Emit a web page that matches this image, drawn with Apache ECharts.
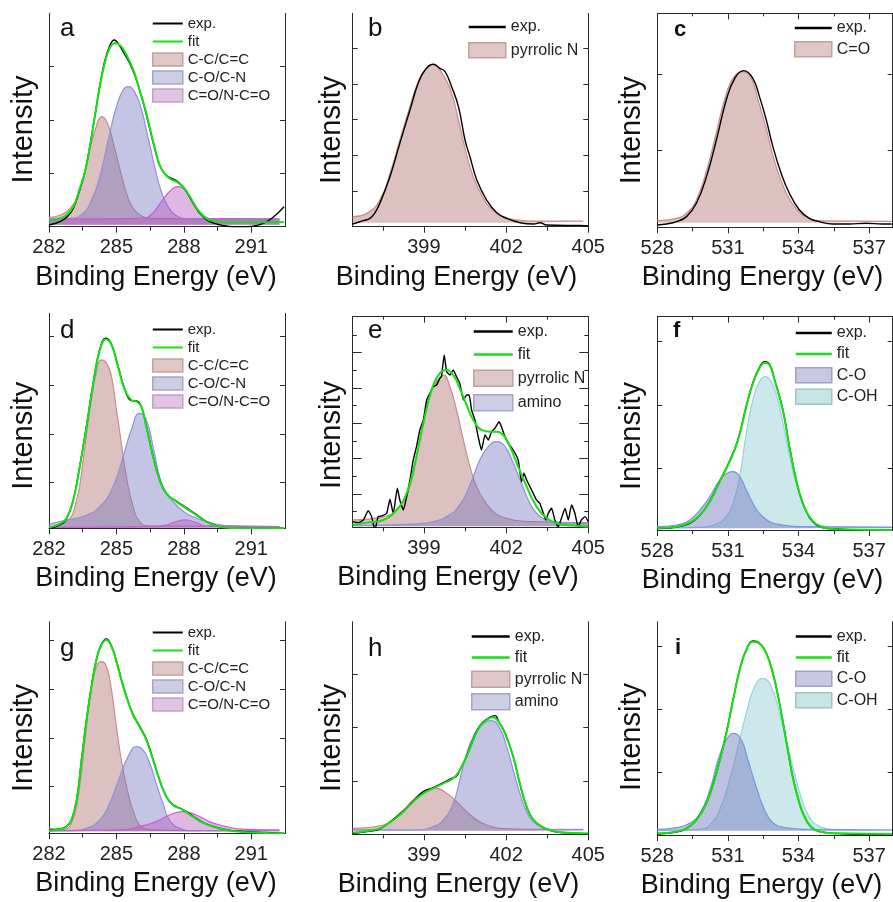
<!DOCTYPE html>
<html><head><meta charset="utf-8">
<script src="https://cdn.jsdelivr.net/npm/echarts@6.0.0/dist/echarts.min.js"></script>
<style>html,body{margin:0;padding:0;background:#fff}#c{width:893px;height:902px}</style>
</head><body><div id="c"></div>
<script>
// ---------- tick positions / labels (binding energy, eV) ----------
const cMajor = [282, 285, 288, 291], cMinor = [283.5, 286.5, 289.5];
const nMajor = [399, 402, 405],      nMinor = [397.5, 400.5, 403.5];
const oMajor = [528, 531, 534, 537], oMinor = [529.5, 532.5, 535.5];
const cRange = [282, 292.5], nRange = [396.4, 405], oRange = [528, 538];

// ---------- panel a (C 1s) ----------
const aExp = [[282.0,5],[282.49,15],[282.78,28],[283.08,55],[283.37,112],[283.6,165],[283.82,242],[284.04,332],[284.26,422],[284.48,497],[284.7,542],[284.9,560],[285.15,542],[285.37,517],[285.59,490],[285.81,456],[286.03,410],[286.26,355],[286.48,295],[286.7,235],[286.92,185],[287.14,160],[287.36,148],[287.66,138],[287.96,120],[288.18,98],[288.4,72],[288.69,42],[288.99,22],[289.36,10],[289.8,3],[290.2,0],[290.8,0],[291.2,3],[291.6,12],[292.0,30],[292.46,60]];
const aFit = [[282.0,18],[282.49,25],[282.78,35],[283.08,60],[283.37,115],[283.6,165],[283.82,240],[284.04,330],[284.26,420],[284.48,490],[284.7,535],[284.93,550],[285.15,545],[285.37,525],[285.59,495],[285.81,460],[286.03,410],[286.26,358],[286.48,298],[286.7,238],[286.92,185],[287.14,160],[287.36,145],[287.66,135],[287.96,120],[288.18,100],[288.4,75],[288.69,45],[288.99,25],[289.36,16],[289.8,13],[292.46,13]];
const aCC  = [[282.0,28],[282.5,35],[283.0,60],[283.4,112],[283.8,225],[284.1,300],[284.35,330],[284.6,310],[284.9,240],[285.2,160],[285.5,90],[285.8,50],[286.2,30],[286.6,24],[292.25,23]];
const aCO  = [[282.0,23],[283.0,25],[283.5,40],[283.9,80],[284.3,160],[284.7,280],[285.0,360],[285.3,410],[285.52,420],[285.8,405],[286.1,355],[286.33,290],[286.55,225],[286.77,160],[287.0,105],[287.3,60],[287.7,32],[288.2,24],[292.25,23]];
const aCON = [[282.0,23],[286.2,25],[286.6,40],[287.0,75],[287.4,108],[287.73,120],[288.1,105],[288.5,62],[288.9,32],[289.3,24],[292.25,23]];

// ---------- panel b (N 1s) ----------
const bExp = [[396.4,8],[396.79,18],[397.03,25],[397.2,40],[397.39,70],[397.76,150],[398.12,250],[398.49,350],[398.79,430],[399.04,470],[399.34,487],[399.58,475],[399.77,465],[400.01,420],[400.26,360],[400.5,260],[400.68,210],[400.93,140],[401.29,80],[401.66,42],[402.02,25],[402.51,12],[403.0,8],[403.24,12],[403.48,5],[404.21,4],[404.7,4],[405.0,2]];
const bPyr = [[396.4,30],[396.91,40],[397.39,80],[397.76,160],[398.12,260],[398.49,360],[398.79,435],[399.1,475],[399.34,487],[399.58,470],[399.95,415],[400.26,320],[400.5,235],[400.8,150],[401.17,85],[401.53,48],[401.9,30],[402.4,20],[403.0,17],[404.82,17]];

// ---------- panel c (O 1s) ----------
const cExp = [[528.0,7],[528.39,10],[528.82,17],[529.24,32],[529.66,72],[530.09,152],[530.51,262],[530.93,382],[531.29,447],[531.67,470],[532.06,447],[532.34,392],[532.63,322],[532.91,242],[533.26,162],[533.61,102],[534.04,52],[534.46,27],[534.88,17],[535.45,10],[536.15,10],[536.86,12],[537.56,10],[537.96,10]];
const cCdO = [[528.0,20],[528.82,27],[529.24,42],[529.66,82],[530.09,170],[530.51,285],[530.93,400],[531.29,455],[531.64,467],[531.99,447],[532.27,385],[532.63,295],[532.91,215],[533.26,140],[533.61,85],[534.04,45],[534.46,26],[534.88,19],[537.96,18]];

// ---------- panel d (C 1s) ----------
const dExp = [[282,0],[282.49,10],[282.78,28],[283.08,85],[283.37,187],[283.67,307],[283.97,437],[284.26,537],[284.53,570],[284.78,552],[285.07,487],[285.37,417],[285.66,383],[285.89,382],[286.11,365],[286.33,306],[286.63,216],[286.92,146],[287.22,104],[287.66,82],[288.1,62],[288.55,42],[288.99,21],[289.58,5],[290.17,1],[291.5,0],[292.46,0]];
const dFit = [[282,2],[282.49,13],[282.78,30],[283.08,85],[283.37,185],[283.67,305],[283.97,435],[284.26,535],[284.53,567],[284.78,550],[285.07,485],[285.37,415],[285.66,385],[285.89,380],[286.11,365],[286.33,305],[286.63,215],[286.92,145],[287.22,105],[287.66,80],[288.1,60],[288.55,40],[288.99,20],[289.58,5],[290.17,1],[292.46,0]];
const dCC  = [[282,5],[282.78,20],[283.23,85],[283.52,205],[283.82,355],[284.11,470],[284.33,505],[284.56,495],[284.78,455],[285.0,355],[285.22,255],[285.44,155],[285.74,65],[286.03,20],[286.48,7],[292.25,5]];
const dCO  = [[282,13],[282.78,25],[283.52,35],[284.26,65],[284.85,125],[285.3,215],[285.66,295],[286.03,345],[286.33,325],[286.63,245],[286.92,155],[287.22,105],[287.66,70],[288.1,45],[288.69,27],[289.43,13],[290.17,7],[292.25,5]];
const dCON = [[282,3],[286.48,5],[287.22,10],[287.66,20],[288.03,25],[288.55,17],[288.99,7],[292.25,5]];

// ---------- panel e (N 1s) ----------
const eExp = [[396.4,17],[396.6,14],[396.79,22],[396.97,50],[397.09,32],[397.21,-8],[397.33,32],[397.46,34],[397.64,42],[397.76,84],[397.88,42],[398.03,117],[398.12,82],[398.25,52],[398.37,92],[398.49,142],[398.61,202],[398.73,242],[398.85,292],[398.98,322],[399.1,382],[399.22,402],[399.34,422],[399.46,427],[399.58,447],[399.64,452],[399.74,517],[399.83,467],[399.95,457],[400.07,472],[400.19,452],[400.31,432],[400.44,382],[400.56,397],[400.65,397],[400.74,352],[400.86,322],[400.98,272],[401.1,232],[401.23,277],[401.35,262],[401.47,287],[401.59,297],[401.74,317],[401.83,302],[401.96,272],[402.08,252],[402.26,232],[402.44,202],[402.56,137],[402.65,162],[402.75,142],[402.87,122],[402.99,102],[403.11,82],[403.23,72],[403.36,42],[403.45,22],[403.54,42],[403.66,57],[403.78,22],[403.9,2],[404.02,27],[404.15,57],[404.27,22],[404.39,67],[404.51,42],[404.63,2],[404.75,22],[404.88,32],[405.0,17]];
const eFit = [[396.4,7],[396.91,14],[397.52,22],[398.0,52],[398.37,102],[398.67,192],[398.98,312],[399.28,412],[399.58,462],[399.83,472],[400.07,457],[400.31,417],[400.56,367],[400.8,322],[401.1,292],[401.41,287],[401.65,287],[401.9,277],[402.14,242],[402.44,182],[402.75,122],[403.11,62],[403.48,27],[403.84,12],[404.33,6],[405.0,2]];
const ePyr = [[396.4,22],[397.52,32],[398.12,62],[398.49,122],[398.85,262],[399.16,382],[399.46,437],[399.71,457],[399.95,422],[400.19,352],[400.44,262],[400.68,182],[400.92,122],[401.23,77],[401.53,47],[402.02,27],[402.99,17],[405.0,14]];
const eAmi = [[396.4,5],[398.73,10],[399.34,17],[399.83,32],[400.31,67],[400.68,127],[401.04,202],[401.35,242],[401.65,257],[401.96,242],[402.26,192],[402.56,132],[402.87,72],[403.17,37],[403.48,22],[403.96,14],[405.0,12]];

// ---------- panel f (O 1s) ----------
const fExp = [[528.0,4],[528.82,9],[529.38,20],[529.81,44],[530.23,86],[530.65,146],[531.07,207],[531.43,272],[531.78,372],[532.06,442],[532.34,488],[532.56,505],[532.77,497],[532.98,452],[533.33,362],[533.61,252],[533.9,150],[534.18,80],[534.46,38],[534.74,16],[535.17,5],[535.73,3],[536.29,0],[537.96,0]];
const fFit = [[528.0,6],[528.82,10],[529.38,22],[529.81,45],[530.23,85],[530.65,145],[531.07,205],[531.43,270],[531.78,370],[532.06,440],[532.34,485],[532.56,502],[532.77,495],[532.98,450],[533.33,360],[533.61,250],[533.9,150],[534.18,80],[534.46,40],[534.74,18],[535.17,5],[535.73,2],[537.96,0]];
const fCO  = [[528.0,10],[528.82,15],[529.38,30],[529.81,60],[530.23,100],[530.65,150],[531.0,172],[531.22,175],[531.5,160],[531.78,120],[532.06,80],[532.34,50],[532.77,25],[533.33,15],[534.04,10],[537.96,8]];
const fCOH = [[528.0,6],[529.81,8],[530.51,18],[530.93,40],[531.22,80],[531.5,160],[531.78,290],[532.06,390],[532.34,445],[532.58,460],[532.84,445],[533.12,390],[533.4,300],[533.68,200],[533.97,120],[534.25,65],[534.53,35],[534.88,15],[535.45,10],[537.96,9]];

// ---------- panel g (C 1s) ----------
const gExp = [[282.0,10],[282.49,13],[282.78,21],[283.0,40],[283.23,100],[283.45,222],[283.67,342],[283.89,442],[284.11,522],[284.33,567],[284.56,583],[284.78,562],[285.0,517],[285.22,462],[285.44,412],[285.74,357],[286.03,322],[286.33,283],[286.63,222],[286.92,160],[287.22,110],[287.51,86],[287.96,71],[288.4,52],[288.84,33],[289.29,21],[289.88,11],[290.47,6],[291.35,3],[292.46,0]];
const gFit = [[282.0,8],[282.49,12],[282.78,20],[283.0,40],[283.23,100],[283.45,220],[283.67,340],[283.89,440],[284.11,520],[284.33,565],[284.56,580],[284.78,560],[285.0,515],[285.22,460],[285.44,410],[285.74,355],[286.03,320],[286.33,280],[286.63,220],[286.92,160],[287.22,110],[287.51,85],[287.96,70],[288.4,50],[288.84,32],[289.29,20],[289.88,10],[290.47,5],[291.35,2],[292.46,0]];
const gCC  = [[282.0,15],[282.64,12],[283.0,30],[283.3,110],[283.6,280],[283.89,440],[284.11,500],[284.33,515],[284.56,500],[284.78,430],[285.0,320],[285.22,220],[285.52,120],[285.81,55],[286.11,20],[286.63,10],[287.96,8],[292.25,8]];
const gCO  = [[282.0,8],[283.08,8],[283.67,15],[284.26,40],[284.7,90],[285.15,170],[285.52,230],[285.89,260],[286.18,250],[286.48,210],[286.77,150],[287.07,90],[287.36,40],[287.81,15],[288.4,8],[292.25,8]];
const gCON = [[282.0,8],[285.0,10],[286.03,20],[286.77,35],[287.36,55],[287.96,65],[288.55,55],[289.14,35],[289.88,20],[290.76,12],[292.25,10]];

// ---------- panel h (N 1s) ----------
const hExp = [[396.4,2],[396.91,8],[397.39,16],[397.88,45],[398.25,70],[398.61,100],[398.98,128],[399.34,140],[399.71,155],[400.07,170],[400.19,175],[400.31,192],[400.56,235],[400.8,286],[401.04,326],[401.29,345],[401.6,356],[401.72,340],[401.96,304],[402.26,233],[402.5,152],[402.75,82],[402.99,44],[403.36,20],[403.84,7],[404.4,4],[405.0,1]];
const hFit = [[396.4,5],[396.91,10],[397.39,18],[397.88,43],[398.25,68],[398.61,98],[398.98,123],[399.34,138],[399.71,153],[400.07,168],[400.31,193],[400.56,233],[400.8,283],[401.04,323],[401.29,343],[401.51,351],[401.72,338],[401.96,303],[402.26,233],[402.5,153],[402.75,83],[402.99,43],[403.36,20],[403.84,8],[405.0,3]];
const hPyr = [[396.4,18],[397.52,28],[398.12,63],[398.61,103],[398.98,128],[399.46,138],[399.83,123],[400.19,98],[400.56,68],[400.92,43],[401.29,28],[401.77,18],[402.99,15],[404.82,15]];
const hAmi = [[396.4,13],[398.73,13],[399.34,23],[399.71,43],[400.07,93],[400.31,163],[400.56,243],[400.8,293],[401.1,328],[401.47,341],[401.77,318],[402.02,263],[402.26,193],[402.5,123],[402.75,68],[402.99,38],[403.36,20],[403.84,13],[404.82,13]];

// ---------- panel i (O 1s) ----------
const iExp = [[528.0,3],[528.82,9],[529.24,19],[529.66,45],[530.09,96],[530.51,186],[530.93,306],[531.22,406],[531.5,496],[531.78,556],[532.06,582],[532.34,576],[532.63,546],[532.91,486],[533.19,396],[533.47,286],[533.75,176],[534.04,95],[534.32,45],[534.67,17],[535.17,7],[535.73,4],[536.5,2],[537.96,1]];
const iFit = [[528.0,5],[528.82,10],[529.24,20],[529.66,45],[530.09,95],[530.51,185],[530.93,305],[531.22,405],[531.5,495],[531.78,555],[532.06,580],[532.34,575],[532.63,545],[532.91,485],[533.19,395],[533.47,285],[533.75,175],[534.04,95],[534.32,45],[534.67,17],[535.17,7],[535.73,5],[537.96,3]];
const iCO  = [[528.0,17],[528.82,22],[529.38,35],[529.81,65],[530.23,135],[530.58,225],[530.93,285],[531.24,305],[531.57,285],[531.85,225],[532.2,145],[532.56,75],[532.91,37],[533.47,22],[534.32,17],[537.96,15]];
const iCOH = [[528.0,13],[529.81,17],[530.23,30],[530.65,75],[531.07,165],[531.43,265],[531.78,365],[532.13,445],[532.49,470],[532.84,445],[533.19,365],[533.54,265],[533.9,165],[534.25,85],[534.6,40],[535.03,22],[535.45,17],[537.96,15]];

// ---------- y tick positions (intensity, a.u.) ----------
const aYt=[160,320,480], bYt=[107,214,321,428,535], cYt=[230,460], dYt=[137,283,429,575];
const eYt=[100,206,312,418,524], eYtMinor=[47,153,259,365,471,577];
const fYt=[185,375,565], gYt=[140,286,432,578], hYt=[160,320,481], iYt=[187,377,567];

// ================= styling / layout =================
const FONT = '"Liberation Sans", Arial, sans-serif';
const AX = '#2a2a2a';
const PINK = {fill:'rgba(170,100,100,0.40)', line:'rgb(200,140,140)', sw:'rgb(223,199,199)', sb:'rgb(196,160,160)', z:2};
const BLUE = {fill:'rgba(115,115,190,0.42)', line:'rgb(145,145,215)', sw:'rgb(205,205,228)', sb:'rgb(165,165,200)', z:3};
const STY = {
  'C-C/C=C': PINK, 'pyrrolic N': PINK, 'C=O': PINK,
  'C-O/C-N': BLUE, 'amino': BLUE,
  'C-O':       {fill:'rgba(110,115,190,0.45)',line:'rgb(120,150,220)', sw:'rgb(200,200,226)', sb:'rgb(160,160,200)', z:3},
  'C=O/N-C=O': {fill:'rgba(180,80,190,0.42)', line:'rgb(200,95,210)',  sw:'rgb(226,196,228)', sb:'rgb(195,160,200)', z:4},
  'C-OH':      {fill:'rgba(100,185,190,0.33)',line:'rgb(150,210,225)', sw:'rgb(200,228,228)', sb:'rgb(160,195,195)', z:2}
};
const XR = {C:{r:cRange,maj:cMajor,min:cMinor}, N:{r:nRange,maj:nMajor,min:nMinor}, O:{r:oRange,maj:oMajor,min:oMinor}};

const PANELS = [
 {L:'a', el:'C', box:[49,13.3,236,213.4], ymax:640, yt:aYt, origin:6, comps:[['C-C/C=C',aCC],['C-O/C-N',aCO],['C=O/N-C=O',aCON]], exp:aExp, fit:aFit,
  lg:[152,16,30,13,3,15], letter:[60,16,false], ng:11, ysh:9.5, xsh:11},
 {L:'b', el:'N', box:[352.7,13.3,235.6,213.4], ymax:640, yt:bYt, origin:12, comps:[['pyrrolic N',bPyr]], exp:bExp, fit:null,
  lg:[468,19,37,15,7,16], letter:[368,16,false], ng:6.5, ysh:10, xsh:14},
 {L:'c', el:'O', box:[657.3,13.3,235.4,214], ymax:642, yt:cYt, origin:14, comps:[['C=O',cCdO]], exp:cExp, fit:null, top:true,
  lg:[794,20,37,15,5,16], letter:[674,19,true], ng:11, ysh:10, xsh:12.5},
 {L:'d', el:'C', box:[49,313.3,236,215], ymax:645, yt:dYt, origin:2, comps:[['C-C/C=C',dCC],['C-O/C-N',dCO],['C=O/N-C=O',dCON]], exp:dExp, fit:dFit,
  lg:[152,322,30,13,3,15], letter:[60,318,false], ng:11, ysh:15, xsh:11},
 {L:'e', el:'N', box:[352.7,316.7,235.6,210.6], ymax:632, yt:eYt, ytm:eYtMinor, origin:3, comps:[['pyrrolic N',ePyr],['amino',eAmi]], exp:eExp, fit:eFit, top:true, rough:true,
  lg:[473,323.5,39,16,7,16], letter:[368,318,false], ng:6.5, ysh:13, xsh:12.5},
 {L:'f', el:'O', box:[657.3,316.7,235.4,213.3], ymax:640, yt:fYt, origin:5, comps:[['C-O',fCO],['C-OH',fCOH]], exp:fExp, fit:fFit, top:true,
  lg:[795,325,36,15,5,16], letter:[673,320,true], ng:11, ysh:12.7, xsh:12.5},
 {L:'g', el:'C', box:[49,621.7,236,211.6], ymax:635, yt:gYt, origin:6, comps:[['C-C/C=C',gCC],['C-O/C-N',gCO],['C=O/N-C=O',gCON]], exp:gExp, fit:gFit,
  lg:[152,625,30,13,3,15], letter:[60,636,false], ng:11, ysh:10.5, xsh:11},
 {L:'h', el:'N', box:[352.7,621.7,235.6,212.6], ymax:638, yt:hYt, origin:11, comps:[['pyrrolic N',hPyr],['amino',hAmi]], exp:hExp, fit:hFit,
  lg:[471,628.5,38,16,5,16], letter:[368,636,false], ng:6, ysh:10, xsh:12},
 {L:'i', el:'O', box:[657.3,621.7,235.4,213.3], ymax:640, yt:iYt, origin:13, comps:[['C-O',iCO],['C-OH',iCOH]], exp:iExp, fit:iFit,
  lg:[795,628.5,36,15,5,16], letter:[675,637,true], ng:11, ysh:8.7, xsh:13.5}
];

const option = {animation:false, backgroundColor:'#fff', grid:[], xAxis:[], yAxis:[], series:[], legend:[], title:[]};
const noSplit = {show:false};
PANELS.forEach((p, gi) => {
  option.grid.push({left:p.box[0], top:p.box[1], width:p.box[2], height:p.box[3]});
  const xr = XR[p.el];
  const xi = option.xAxis.length;
  option.xAxis.push({gridIndex:gi, type:'value', position:'bottom', min:xr.r[0], max:xr.r[1],
    axisLine:{show:true, onZero:false, lineStyle:{color:AX, width:1}},
    axisTick:{show:true, inside:false, length:6, customValues:xr.maj, lineStyle:{color:AX}},
    axisLabel:{show:true, customValues:xr.maj, fontSize:20, color:'#222', margin:11, fontFamily:FONT, hideOverlap:false, showMinLabel:true, showMaxLabel:true},
    splitLine:noSplit, name:'Binding Energy (eV)', nameLocation:'middle', nameGap:37,
    nameTextStyle:{fontSize:27, color:'#111', fontFamily:FONT, padding:[0, 2*p.xsh, 0, 0]}});
  option.xAxis.push({gridIndex:gi, type:'value', position:'bottom', min:xr.r[0], max:xr.r[1],
    axisLine:{show:false, onZero:false}, axisTick:{show:true, inside:false, length:4, customValues:xr.min, lineStyle:{color:AX}},
    axisLabel:{show:false}, splitLine:noSplit});
  if (p.top) {
    option.xAxis.push({gridIndex:gi, type:'value', position:'top', min:xr.r[0], max:xr.r[1],
      axisLine:{show:true, onZero:false, lineStyle:{color:AX, width:1}},
      axisTick:{show:true, inside:true, length:6, customValues:xr.maj, lineStyle:{color:AX}},
      axisLabel:{show:false}, splitLine:noSplit});
    option.xAxis.push({gridIndex:gi, type:'value', position:'top', min:xr.r[0], max:xr.r[1],
      axisLine:{show:false, onZero:false}, axisTick:{show:true, inside:true, length:3, customValues:xr.min, lineStyle:{color:AX}},
      axisLabel:{show:false}, splitLine:noSplit});
  }
  const yi = option.yAxis.length;
  const ytLen = p.ytm ? 9 : 5;
  option.yAxis.push({gridIndex:gi, type:'value', position:'left', min:0, max:p.ymax,
    axisLine:{show:true, onZero:false, lineStyle:{color:AX, width:1}},
    axisTick:{show:true, inside:true, length:ytLen, customValues:p.yt, lineStyle:{color:AX}},
    axisLabel:{show:false}, splitLine:noSplit,
    name:'Intensity', nameLocation:'middle', nameGap:p.ng, nameRotate:90,
    nameTextStyle:{fontSize:29, color:'#111', fontFamily:FONT, padding:[0, 2*p.ysh, 0, 0]}});
  option.yAxis.push({gridIndex:gi, type:'value', position:'right', min:0, max:p.ymax,
    axisLine:{show:true, onZero:false, lineStyle:{color:AX, width:1}},
    axisTick:{show:true, inside:true, length:ytLen, customValues:p.yt, lineStyle:{color:AX}},
    axisLabel:{show:false}, splitLine:noSplit});
  if (p.ytm) {
    ['left','right'].forEach(pos => option.yAxis.push({gridIndex:gi, type:'value', position:pos, min:0, max:p.ymax,
      axisLine:{show:false, onZero:false}, axisTick:{show:true, inside:true, length:4, customValues:p.ytm, lineStyle:{color:AX}},
      axisLabel:{show:false}, splitLine:noSplit}));
  }
  // component areas
  p.comps.forEach(([name, data]) => {
    const s = STY[name];
    option.series.push({type:'line', name, xAxisIndex:xi, yAxisIndex:yi, data, symbol:'none', smooth:0.5,
      lineStyle:{color:s.line, width:1.2}, itemStyle:{color:s.line}, areaStyle:{color:s.fill, origin:p.origin, opacity:1},
      z:s.z, silent:true});
  });
  option.series.push({type:'line', name:'exp.', xAxisIndex:xi, yAxisIndex:yi, data:p.exp, symbol:'none',
    smooth: p.rough ? 0.15 : 0.45, lineStyle:{color:'#000', width:1.4}, itemStyle:{color:'#000'}, z:6, silent:true});
  if (p.fit) option.series.push({type:'line', name:'fit', xAxisIndex:xi, yAxisIndex:yi, data:p.fit, symbol:'none',
    smooth:0.45, lineStyle:{color:'#14e014', width:2}, itemStyle:{color:'#14e014'}, z:7, silent:true});
  // legend
  const [lx, ly, iw, ih, gap, fs] = p.lg;
  const ldata = [{name:'exp.', icon:'path://M0,0H15V1H0Z', itemStyle:{color:'#000', borderWidth:0}}];
  if (p.fit) ldata.push({name:'fit', icon:'path://M0,0H15V1H0Z', itemStyle:{color:'#14e014', borderWidth:0}});
  p.comps.forEach(([name]) => ldata.push({name, icon:'rect', itemStyle:{color:STY[name].sw, borderColor:STY[name].sb, borderWidth:1.5}}));
  option.legend.push({orient:'vertical', left:lx, top:ly, padding:0, itemWidth:iw, itemHeight:ih, itemGap:gap,
    selectedMode:false, data:ldata, textStyle:{fontSize:fs, color:'#222', fontFamily:FONT}});
  // panel letter
  option.title.push({text:p.L, left:p.letter[0], top:p.letter[1], padding:0,
    textStyle:{fontSize:p.letter[2] ? 22 : 26, fontWeight:p.letter[2] ? 'bold' : 'normal', color:'#111', fontFamily:FONT}});
});

const chart = echarts.init(document.getElementById('c'), null, {renderer:'canvas'});
chart.setOption(option);
</script></body></html>
